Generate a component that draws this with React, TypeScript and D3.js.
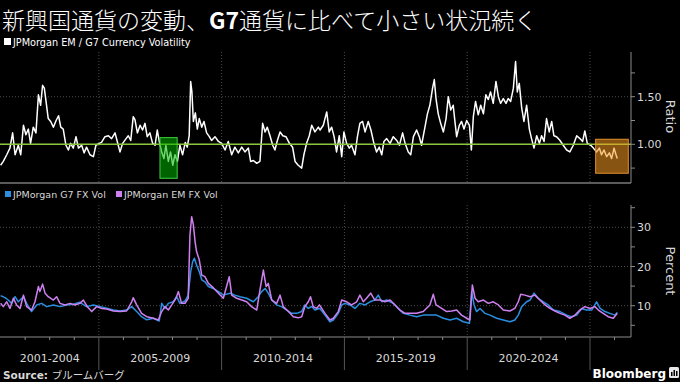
import React from "react";
import * as d3 from "d3";

const W = 680;
const H = 382;

const ratioYears = [
  2001.00,2001.11,2001.25,2001.38,2001.49,2001.59,2001.72,2001.82,2001.93,2002.03,
  2002.13,2002.22,2002.33,2002.44,2002.54,2002.63,2002.71,2002.78,2002.85,2002.94,
  2003.04,2003.15,2003.26,2003.36,2003.45,2003.55,2003.66,2003.76,2003.85,2003.96,
  2004.07,2004.17,2004.30,2004.40,2004.50,2004.64,2004.78,2004.88,2005.02,2005.11,
  2005.25,2005.39,2005.52,2005.66,2005.75,2005.86,2005.97,2006.11,2006.20,2006.30,
  2006.40,2006.47,2006.57,2006.68,2006.78,2006.88,2006.97,2007.08,2007.19,2007.29,
  2007.38,2007.46,2007.56,2007.65,2007.73,2007.83,2007.92,2008.01,2008.10,2008.20,
  2008.30,2008.41,2008.52,2008.60,2008.68,2008.74,2008.79,2008.85,2008.93,2009.01,
  2009.09,2009.19,2009.28,2009.39,2009.50,2009.59,2009.73,2009.87,2010.00,2010.14,
  2010.27,2010.41,2010.54,2010.68,2010.82,2010.95,2011.09,2011.18,2011.29,2011.43,
  2011.56,2011.67,2011.77,2011.86,2011.97,2012.08,2012.17,2012.27,2012.38,2012.49,
  2012.62,2012.76,2012.89,2012.99,2013.12,2013.26,2013.35,2013.46,2013.57,2013.67,
  2013.80,2013.94,
  2014.01,2014.14,2014.28,2014.38,2014.48,2014.58,2014.68,2014.79,2014.89,2014.98,
  2015.09,2015.20,2015.29,2015.43,2015.53,2015.63,2015.74,2015.84,2015.97,2016.08,
  2016.20,2016.31,2016.42,2016.52,2016.61,2016.72,2016.86,2016.99,2017.13,2017.24,
  2017.37,2017.47,2017.60,2017.70,2017.81,2017.94,2018.05,2018.14,2018.28,2018.38,
  2018.48,2018.59,2018.66,2018.73,2018.82,2018.92,2019.03,2019.14,2019.23,2019.33,
  2019.43,2019.50,2019.57,2019.68,2019.77,2019.87,2019.98,2020.09,2020.17,2020.25,
  2020.34,2020.45,2020.55,2020.66,2020.76,2020.86,2020.95,2021.06,2021.17,2021.27,
  2021.36,2021.47,2021.58,2021.67,2021.77,2021.88,2021.97,2022.04,2022.12,2022.22,
  2022.31,2022.42,2022.53,2022.62,2022.72,2022.83,2022.94,2023.03,2023.13,2023.23,
  2023.34,2023.44,2023.53,2023.64,2023.78,2023.91,2024.05,2024.18,2024.32,2024.46,
  2024.59,2024.70,2024.79,2024.89,2025.03,2025.14,2025.27,2025.38,2025.47,2025.57,
  2025.68,2025.79,2025.88,2025.98,2026.06,2026.11,
];
const ratioValues = [
  0.78,0.82,0.89,0.96,1.12,0.89,0.99,0.89,1.20,1.10,
  1.16,1.01,1.18,1.12,1.52,1.41,1.62,1.59,1.45,1.27,
  1.24,1.18,1.25,1.30,1.18,1.16,0.99,0.94,1.01,0.96,
  1.08,0.96,0.99,0.91,0.97,0.89,0.87,0.99,1.01,1.02,
  1.08,1.09,1.06,1.12,1.03,0.92,1.01,1.06,1.09,1.04,
  1.29,1.26,1.12,1.20,1.15,1.22,1.08,1.12,1.01,0.99,
  1.15,1.03,0.92,0.85,0.99,0.82,0.92,0.78,0.89,0.82,
  0.99,0.89,1.02,0.97,1.09,1.66,1.55,1.24,1.33,1.16,
  1.27,1.18,1.24,1.12,1.08,1.04,1.08,1.03,1.01,0.94,
  1.03,0.89,0.97,0.91,0.97,0.92,0.96,0.82,0.83,0.80,
  0.82,1.22,1.13,1.18,1.09,0.99,0.94,1.04,1.13,1.09,
  1.08,1.01,0.97,0.82,0.78,0.75,0.89,1.01,1.09,1.20,
  1.13,1.18,
  1.15,1.20,1.34,1.13,1.18,1.08,0.92,1.09,0.87,1.13,
  1.01,0.96,0.99,0.89,1.08,1.22,1.24,1.13,1.24,1.15,
  1.01,0.92,0.97,0.89,1.03,1.06,1.01,1.08,1.04,0.99,
  1.12,1.01,0.92,0.89,1.08,1.15,1.08,0.99,1.18,1.32,
  1.41,1.59,1.68,1.48,1.32,1.22,1.13,1.27,1.50,1.36,
  1.41,1.24,1.08,1.20,1.24,1.16,1.25,1.20,0.94,1.29,
  1.45,1.31,1.41,1.32,1.52,1.47,1.55,1.43,1.66,1.50,
  1.43,1.48,1.43,1.48,1.45,1.59,1.87,1.55,1.64,1.38,
  1.24,1.41,1.16,1.06,0.96,1.09,1.01,1.09,1.03,1.27,
  1.13,1.24,1.09,1.08,1.04,0.99,0.94,0.92,0.99,1.09,
  1.06,1.03,1.14,1.01,0.99,0.96,0.92,0.96,0.89,0.94,
  0.87,0.91,0.85,0.96,0.89,0.85,
];

const g7Years = [
  2001.00,2001.18,2001.31,2001.45,2001.59,2001.72,2001.93,2002.06,2002.26,2002.47,
  2002.67,2002.88,2003.15,2003.42,2003.69,2003.96,2004.23,2004.50,2004.78,2005.05,
  2005.32,2005.59,2005.86,2006.13,2006.34,2006.54,2006.74,2006.95,2007.22,2007.46,
  2007.56,2007.69,2007.83,2008.03,2008.17,2008.30,2008.51,2008.64,2008.74,2008.82,
  2008.89,2008.98,2009.09,2009.19,2009.32,2009.46,2009.66,2009.87,2010.07,2010.34,
  2010.54,2010.75,2011.02,2011.29,2011.49,2011.63,2011.77,2011.90,2012.04,2012.24,
  2012.44,2012.65,2012.85,2013.06,2013.26,2013.39,2013.53,2013.67,2013.80,2013.98,
  2014.00,2014.21,2014.41,2014.55,2014.75,2014.89,2015.02,2015.23,2015.43,2015.63,
  2015.84,2016.04,2016.24,2016.38,2016.52,2016.72,2016.99,2017.19,2017.40,2017.67,
  2017.94,2018.21,2018.48,2018.75,2019.03,2019.30,2019.57,2019.84,2020.09,2020.18,
  2020.28,2020.38,2020.52,2020.72,2020.93,2021.20,2021.47,2021.74,2021.94,2022.08,
  2022.22,2022.42,2022.56,2022.72,2022.89,2023.10,2023.30,2023.51,2023.78,2024.05,
  2024.25,2024.46,2024.66,2024.86,2025.07,2025.27,2025.41,2025.61,2025.81,2026.02,
  2026.11,
];
const g7Values = [
  12.56,12.05,11.45,10.6,12.3,11.0,12.3,10.6,8.5,10.2,
  10.6,9.76,10.2,9.76,10.2,10.35,10.86,9.76,10.2,9.76,
  9.33,8.9,8.65,8.9,9.76,8.5,7.2,6.4,6.8,6.1,
  10.6,9.3,10.6,11.0,12.3,10.6,11.2,12.7,18.7,21.2,
  22.1,20.4,18.7,16.6,16.1,14.9,14.4,13.6,12.7,13.2,
  12.7,12.3,11.9,11.0,12.3,13.6,14.4,13.2,11.5,10.2,
  9.76,8.9,8.05,8.05,8.5,10.2,9.3,9.8,8.9,9.3,
  9.3,7.6,5.9,6.35,8.05,10.2,10.6,10.2,9.3,10.6,
  10.2,11.0,11.45,12.7,11.0,11.45,10.6,9.3,8.05,7.6,
  7.2,7.6,7.6,7.6,6.8,6.35,6.8,5.9,5.5,13.6,
  10.2,8.5,9.3,8.05,7.6,6.8,6.35,5.9,6.35,7.6,
  9.76,11.0,11.45,13.2,11.9,11.0,10.2,8.9,8.5,7.6,
  7.2,7.6,9.3,8.9,8.9,11.0,9.3,8.5,8.05,7.6,
  8.3,
];

const emYears = [
  2001.00,2001.11,2001.25,2001.38,2001.52,2001.65,2001.79,2001.93,2002.06,2002.26,
  2002.40,2002.54,2002.60,2002.71,2002.81,2002.94,2003.15,2003.28,2003.42,2003.62,
  2003.83,2004.03,2004.23,2004.37,2004.53,2004.71,2004.91,2005.12,2005.32,2005.59,
  2005.86,2006.13,2006.34,2006.40,2006.54,2006.74,2006.95,2007.22,2007.42,2007.56,
  2007.69,2007.83,2007.97,2008.14,2008.24,2008.37,2008.51,2008.64,2008.71,2008.78,
  2008.85,2008.92,2008.98,2009.09,2009.19,2009.32,2009.46,2009.66,2009.87,2010.07,
  2010.31,2010.41,2010.61,2010.82,2011.02,2011.22,2011.43,2011.56,2011.70,2011.81,
  2011.90,2012.04,2012.24,2012.38,2012.51,2012.72,2012.92,2013.12,2013.26,2013.39,
  2013.53,2013.62,2013.73,2013.87,2013.98,
  2014.03,2014.21,2014.41,2014.55,2014.75,2014.89,2015.09,2015.29,2015.50,2015.63,
  2015.77,2015.90,2016.07,2016.24,2016.45,2016.65,2016.86,2017.06,2017.26,2017.47,
  2017.67,2017.94,2018.21,2018.48,2018.62,2018.73,2018.96,2019.16,2019.37,2019.57,
  2019.77,2019.98,2020.11,2020.21,2020.32,2020.45,2020.66,2020.86,2021.06,2021.27,
  2021.47,2021.74,2021.94,2022.08,2022.18,2022.35,2022.56,2022.76,2022.96,2023.17,
  2023.37,2023.57,2023.78,2023.98,2024.18,2024.39,2024.59,2024.79,2025.00,2025.20,
  2025.34,2025.54,2025.74,2025.95,2026.11,
];
const emValues = [
  10.6,9.76,11.0,9.3,11.9,10.2,9.3,12.7,9.76,8.9,
  11.0,14.9,13.6,15.5,13.2,12.3,11.45,12.3,10.6,10.2,
  10.6,10.2,10.6,11.45,9.76,8.5,9.76,9.3,9.15,8.65,
  8.5,8.65,11.0,12.05,10.2,8.05,7.2,6.8,6.35,8.5,
  9.76,8.9,10.2,11.9,13.6,10.6,10.6,11.9,28.0,32.7,
  30.6,26.3,23.8,21.7,17.8,17.4,15.7,14.6,13.2,11.9,
  17.4,12.7,11.9,11.45,11.0,9.76,8.9,14.0,19.1,14.9,
  15.7,11.45,10.6,12.7,9.76,8.5,7.2,6.9,7.2,9.76,
  11.0,12.3,9.76,9.3,10.2,
  9.76,8.05,6.35,6.8,8.5,11.45,11.0,10.2,11.0,12.7,
  11.0,11.9,13.2,11.45,11.45,11.0,11.45,10.2,8.9,8.05,
  8.05,8.05,8.5,10.2,12.9,10.2,9.3,8.5,8.65,8.9,
  7.6,6.8,6.35,15.3,11.9,11.0,11.45,10.6,11.0,10.2,
  8.9,8.65,9.3,11.0,12.9,12.7,12.3,12.7,11.45,10.2,
  9.3,8.65,8.05,7.6,6.8,7.6,8.9,9.76,9.3,9.76,
  8.9,8.05,7.2,6.8,8.05,
];

const periodLabels = ["2001-2004", "2005-2009", "2010-2014", "2015-2019", "2020-2024"];
const periodStarts = [2001, 2005, 2010, 2015, 2020];
const periodEnds = [2005, 2010, 2015, 2020, 2025];
const yearTicks = d3.range(2002, 2027);
const majorYears = [2005, 2010, 2015, 2020, 2025];

const ratioTicks = [0.75, 1.0, 1.25, 1.5, 1.75];
const ratioTickLabels = [1.0, 1.5];
const pctTicks = [5, 10, 15, 20, 25, 30, 35];
const pctTickLabels = [10, 20, 30];

// highlight periods: [startYear, endYear, lowRatio, highRatio]
const greenBox = [2007.49, 2008.19, 0.643, 1.07];
const orangeBox = [2025.23, 2026.56, 0.696, 1.053];

const FONT = "'DejaVu Sans', sans-serif";
const NARROW = "'Liberation Sans Narrow', 'DejaVu Sans Condensed', 'Roboto', sans-serif";
const CJK = "'Noto Sans CJK JP', 'Noto Sans', sans-serif";

export default function App() {
  const x = d3.scaleLinear().domain([2001, 2026.67]).range([0.6, 631]);
  const yR = d3.scaleLinear().domain([0.5, 2.0]).range([191.9, 49.1]);
  const yP = d3.scaleLinear().domain([0, 35]).range([344.9, 207.7]);

  const axisX = 631;
  const topY0 = 52, topY1 = 183;
  const botY0 = 205, botY1 = 337;

  const ratioLine = d3.line<number>().x((_, i) => x(ratioYears[i])).y((d) => yR(d));
  const g7Line = d3.line<number>().x((_, i) => x(g7Years[i])).y((d) => yP(d));
  const emLine = d3.line<number>().x((_, i) => x(emYears[i])).y((d) => yP(d));

  const grid = "#4a4a4a";
  const axisCol = "#8a8a8a";
  const txt = "#d8d8d8";

  return (
    <svg
      width={W}
      height={H}
      style={{ position: "absolute", left: 0, top: 0, background: "#000", display: "block" }}
    >
      <rect x={0} y={0} width={W} height={H} fill="#000" />

      {/* Title */}
      <text x={2} y={29} fill="#fff" fontSize={23} fontFamily={CJK} fontWeight={300}>
        新興国通貨の変動、<tspan fontWeight={700}>G7</tspan>通貨に比べて小さい状況続く
      </text>

      {/* top legend */}
      <rect x={4} y={38} width={7} height={7} fill="#fff" />
      <text x={13} y={45.5} fill="#fff" fontSize={10.8} fontFamily={NARROW}>
        JPMorgan EM / G7 Currency Volatility
      </text>

      {/* vertical gridlines */}
      {majorYears.map((yr) => (
        <g key={"vg" + yr}>
          <line x1={x(yr)} x2={x(yr)} y1={topY0} y2={topY1} stroke={grid} strokeDasharray="1,2" />
          <line x1={x(yr)} x2={x(yr)} y1={botY0} y2={botY1} stroke={grid} strokeDasharray="1,2" />
        </g>
      ))}

      {/* horizontal gridlines */}
      {ratioTickLabels.map((v) => (
        <line key={"hr" + v} x1={0} x2={axisX} y1={yR(v)} y2={yR(v)} stroke={grid} strokeDasharray="1,2" />
      ))}
      {pctTickLabels.map((v) => (
        <line key={"hp" + v} x1={0} x2={axisX} y1={yP(v)} y2={yP(v)} stroke={grid} strokeDasharray="1,2" />
      ))}

      {/* ratio line */}
      <path d={ratioLine(ratioValues) || ""} fill="none" stroke="#fff" strokeWidth={1.5} strokeLinejoin="round" />

      {/* parity line */}
      <line x1={0} x2={axisX} y1={yR(1)} y2={yR(1)} stroke="#8cc63f" strokeWidth={1.4} />

      {/* highlight boxes */}
      <rect
        x={x(greenBox[0])}
        y={yR(greenBox[3])}
        width={x(greenBox[1]) - x(greenBox[0])}
        height={yR(greenBox[2]) - yR(greenBox[3])}
        fill="#00b400"
        fillOpacity={0.55}
        stroke="#3fcf3f"
        strokeWidth={1}
      />
      <rect
        x={x(orangeBox[0])}
        y={yR(orangeBox[3])}
        width={x(orangeBox[1]) - x(orangeBox[0])}
        height={yR(orangeBox[2]) - yR(orangeBox[3])}
        fill="#f5991f"
        fillOpacity={0.55}
        stroke="#e0902a"
        strokeWidth={1}
      />

      {/* top panel axes */}
      <line x1={0} x2={axisX} y1={topY1} y2={topY1} stroke="#5a5a5a" strokeWidth={2} />
      <line x1={axisX} x2={axisX} y1={topY0} y2={topY1} stroke={axisCol} strokeWidth={1} />
      {ratioTicks.map((v) => (
        <line key={"rt" + v} x1={axisX} x2={axisX + 4} y1={yR(v)} y2={yR(v)} stroke={axisCol} />
      ))}
      {ratioTickLabels.map((v) => (
        <text key={"rl" + v} x={axisX + 6} y={yR(v) + 4} fill={txt} fontSize={11} fontFamily={FONT}>
          {d3.format(".2f")(v)}
        </text>
      ))}
      <text
        transform={`translate(666,${(topY0 + topY1) / 2 - 1}) rotate(90)`}
        textAnchor="middle"
        fill={txt}
        fontSize={13}
        fontFamily={FONT}
      >
        Ratio
      </text>

      {/* bottom legend */}
      <rect x={5} y={191} width={6} height={6} fill="#2a8fe0" />
      <text x={13} y={198} fill={txt} fontSize={9.5} fontFamily={FONT}>
        JPMorgan G7 FX Vol
      </text>
      <rect x={116} y={191} width={6} height={6} fill="#cf80f0" />
      <text x={124} y={198} fill={txt} fontSize={9.5} fontFamily={FONT}>
        JPMorgan EM FX Vol
      </text>

      {/* bottom lines */}
      <path d={g7Line(g7Values) || ""} fill="none" stroke="#2a8fe0" strokeWidth={1.5} strokeLinejoin="round" />
      <path d={emLine(emValues) || ""} fill="none" stroke="#cf80f0" strokeWidth={1.5} strokeLinejoin="round" />

      {/* bottom axes */}
      <line x1={0} x2={axisX} y1={botY1} y2={botY1} stroke={axisCol} strokeWidth={1.2} />
      <line x1={axisX} x2={axisX} y1={botY0} y2={botY1} stroke={axisCol} strokeWidth={1} />
      {pctTicks.map((v) => (
        <line key={"pt" + v} x1={axisX} x2={axisX + 4} y1={yP(v)} y2={yP(v)} stroke={axisCol} />
      ))}
      {pctTickLabels.map((v) => (
        <text key={"pl" + v} x={axisX + 6} y={yP(v) + 4} fill={txt} fontSize={11} fontFamily={FONT}>
          {v}
        </text>
      ))}
      <text
        transform={`translate(666,${(botY0 + botY1) / 2}) rotate(90)`}
        textAnchor="middle"
        fill={txt}
        fontSize={13}
        fontFamily={FONT}
      >
        Percent
      </text>

      {/* x ticks */}
      {yearTicks.map((yr) => (
        <line
          key={"xt" + yr}
          x1={x(yr)}
          x2={x(yr)}
          y1={botY1}
          y2={majorYears.includes(yr) ? 370 : botY1 + 3}
          stroke={majorYears.includes(yr) ? "#555" : axisCol}
        />
      ))}
      {periodLabels.map((lab, i) => (
        <text
          key={lab}
          x={(x(periodStarts[i]) + x(periodEnds[i])) / 2}
          y={362}
          textAnchor="middle"
          fill={txt}
          fontSize={11}
          fontFamily={FONT}
        >
          {lab}
        </text>
      ))}

      {/* footer */}
      <text x={3} y={379} fill={txt} fontSize={10.5}>
        <tspan fontFamily={FONT} fontWeight={700}>Source: </tspan>
        <tspan fontFamily={CJK}>ブルームバーグ</tspan>
      </text>
      <text x={666} y={378} textAnchor="end" fill="#fff" fontSize={12} fontWeight={700} fontFamily={FONT}>
        Bloomberg
      </text>
      <rect x={669} y={367} width={10} height={11} rx={1.5} fill="#e8e8e8" />
      <rect x={671} y={372} width={1.5} height={4} fill="#000" />
      <rect x={673.5} y={370} width={1.5} height={6} fill="#000" />
      <rect x={676} y={371} width={1.5} height={5} fill="#000" />
    </svg>
  );
}
